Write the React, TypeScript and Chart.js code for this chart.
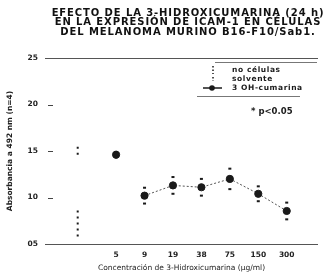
import React, { useEffect, useRef } from "react";
import { Chart, registerables } from "chart.js";

Chart.register(...registerables);

const titleLines = [
  "EFECTO DE LA 3-HIDROXICUMARINA (24 h)",
  "EN LA EXPRESIÓN DE ICAM-1 EN CÉLULAS",
  "DEL MELANOMA MURINO B16-F10/Sab1.",
];
const concentrations = ["5", "9", "19", "38", "75", "150", "300"];
const absorbance = [14.6, 10.2, 11.3, 11.1, 12.0, 10.4, 8.55];
const absorbanceError = [0.3, 0.85, 0.9, 0.9, 1.1, 0.8, 0.9];
const controlLabels = ["no células", "solvente"];
const controlMeans = [7.1, 14.9];
const controlErrors = [1.5, 0.55];
const seriesLabel = "3 OH-cumarina";
const yTickValues = [5, 10, 15, 20, 25];
const xTitle = "Concentración de 3-Hidroxicumarina (µg/ml)";
const yTitle = "Absorbancia a 492 nm (n=4)";
const significance = "* p<0.05";

const CONTROL_X = -1.35;
const INK = "#1a1a1a";

const decorPlugin = {
  id: "decor",
  afterDatasetsDraw(chart: any) {
    const { ctx, chartArea, scales } = chart;
    const xs = scales.x;
    const ys = scales.y;
    ctx.save();
    // title
    ctx.fillStyle = "#111";
    ctx.font = "bold 10px 'DejaVu Sans'";
    ctx.textAlign = "center";
    ctx.textBaseline = "middle";
    (ctx as any).letterSpacing = "0.9px";
    titleLines.forEach((t, i) => {
      ctx.fillText(t, 188, 13 + i * 9.6);
    });
    (ctx as any).letterSpacing = "0px";
    // y tick dashes inside the area
    ctx.strokeStyle = "#444";
    ctx.lineWidth = 1;
    yTickValues.slice(1, -1).forEach((v) => {
      const y = Math.round(ys.getPixelForValue(v)) + 0.5;
      ctx.beginPath();
      ctx.moveTo(chartArea.left + 3, y);
      ctx.lineTo(chartArea.left + 8, y);
      ctx.stroke();
    });
    // control bars (dotted verticals)
    controlMeans.forEach((m, i) => {
      const x = xs.getPixelForValue(CONTROL_X);
      const y1 = ys.getPixelForValue(m + controlErrors[i]);
      const y2 = ys.getPixelForValue(m - controlErrors[i]);
      ctx.strokeStyle = INK;
      ctx.lineWidth = 2;
      ctx.setLineDash([2, 4]);
      ctx.beginPath();
      ctx.moveTo(x, y1);
      ctx.lineTo(x, y2);
      ctx.stroke();
      ctx.setLineDash([]);
    });
    // error caps for main series
    absorbance.forEach((v, i) => {
      const x = xs.getPixelForValue(i);
      const e = absorbanceError[i];
      [v + e, v - e].forEach((val) => {
        const y = ys.getPixelForValue(val);
        ctx.fillStyle = INK;
        ctx.fillRect(x - 1.5, y - 1, 3, 2);
      });
    });
    // legend
    const lx = 232;
    ctx.strokeStyle = "#777";
    ctx.lineWidth = 1;
    ctx.beginPath();
    ctx.moveTo(215, 62.5);
    ctx.lineTo(317, 62.5);
    ctx.moveTo(197, 96.5);
    ctx.lineTo(300, 96.5);
    ctx.stroke();
    ctx.font = "bold 7.5px 'DejaVu Sans'";
    ctx.fillStyle = INK;
    ctx.textBaseline = "middle";
    ctx.textAlign = "left";
    const rows = [70, 79, 88];
    ctx.strokeStyle = INK;
    ctx.lineWidth = 1.5;
    ctx.setLineDash([1.5, 2]);
    ctx.beginPath();
    ctx.moveTo(213, rows[0] - 4);
    ctx.lineTo(213, rows[0] + 4);
    ctx.moveTo(213, rows[1] - 2);
    ctx.lineTo(213, rows[1] + 2);
    ctx.stroke();
    ctx.setLineDash([]);
    ctx.lineWidth = 1.5;
    ctx.beginPath();
    ctx.moveTo(203, rows[2]);
    ctx.lineTo(222, rows[2]);
    ctx.stroke();
    ctx.beginPath();
    ctx.arc(212, rows[2], 2.8, 0, Math.PI * 2);
    ctx.fill();
    (ctx as any).letterSpacing = "0.6px";
    ctx.fillText(controlLabels[0], lx, rows[0]);
    ctx.fillText(controlLabels[1], lx, rows[1]);
    ctx.fillText(seriesLabel, lx, rows[2]);
    (ctx as any).letterSpacing = "0px";
    ctx.font = "bold 8.5px 'DejaVu Sans'";
    ctx.fillText(significance, 251, 112);
    ctx.restore();
  },
};

export default function App() {
  const ref = useRef<HTMLCanvasElement>(null);
  useEffect(() => {
    if (!ref.current) return;
    const chart = new Chart(ref.current, {
      type: "line",
      data: {
        datasets: [
          {
            label: seriesLabel,
            data: absorbance.map((v, i) => ({ x: i, y: v })),
            borderColor: "#555",
            borderWidth: 1,
            borderDash: [2, 2],
            pointRadius: 3.6,
            pointBackgroundColor: INK,
            pointBorderColor: INK,
            segment: {
              borderColor: (c: any) => (c.p0DataIndex === 0 ? "rgba(0,0,0,0)" : "#555"),
            },
          },
          {
            label: "controles",
            data: controlMeans.map((m) => ({ x: CONTROL_X, y: m })),
            showLine: false,
            pointRadius: 0,
          },
        ],
      },
      options: {
        responsive: false,
        animation: false,
        layout: { padding: { left: 0, right: 11, top: 58, bottom: 0 } },
        plugins: {
          legend: { display: false },
          tooltip: { enabled: false },
          title: { display: false },
        },
        scales: {
          x: {
            type: "linear",
            min: -2.5,
            max: 7.1,
            afterBuildTicks: (axis: any) => {
              axis.ticks = concentrations.map((_, i) => ({ value: i }));
            },
            afterFit: (s: any) => {
              s.height = 29;
            },
            ticks: {
              callback: (v: any) => concentrations[v] ?? "",
              color: "#222",
              font: { family: "'DejaVu Sans'", size: 7.5, weight: "bold" },
              padding: 7,
              maxRotation: 0,
              autoSkip: false,
            },
            grid: { display: false, drawTicks: false },
            border: { display: false },
            title: {
              display: true,
              text: xTitle,
              color: "#222",
              font: { family: "'DejaVu Sans'", size: 7.5 },
              padding: { top: 2, bottom: 0 },
            },
          },
          y: {
            type: "linear",
            min: 5,
            max: 25,
            afterBuildTicks: (axis: any) => {
              axis.ticks = yTickValues.map((v) => ({ value: v }));
            },
            afterFit: (s: any) => {
              s.width = 45;
            },
            ticks: {
              callback: (v: any) => String(v).padStart(2, "0"),
              color: "#222",
              font: { family: "'DejaVu Sans'", size: 7.5, weight: "bold" },
              padding: 7,
            },
            grid: {
              drawTicks: false,
              color: (c: any) =>
                c.tick && (c.tick.value === 5 || c.tick.value === 25) ? "#555" : "rgba(0,0,0,0)",
            },
            border: { display: false },
            title: {
              display: true,
              text: yTitle,
              color: "#222",
              font: { family: "'DejaVu Sans'", size: 7.5, weight: "bold" },
              padding: { top: 6, bottom: 0 },
            },
          },
        },
      },
      plugins: [decorPlugin],
    });
    return () => chart.destroy();
  }, []);
  return (
    <div style={{ position: "absolute", left: 0, top: 0, width: 329, height: 273, background: "#fff" }}>
      <canvas ref={ref} width={329} height={273} />
    </div>
  );
}
